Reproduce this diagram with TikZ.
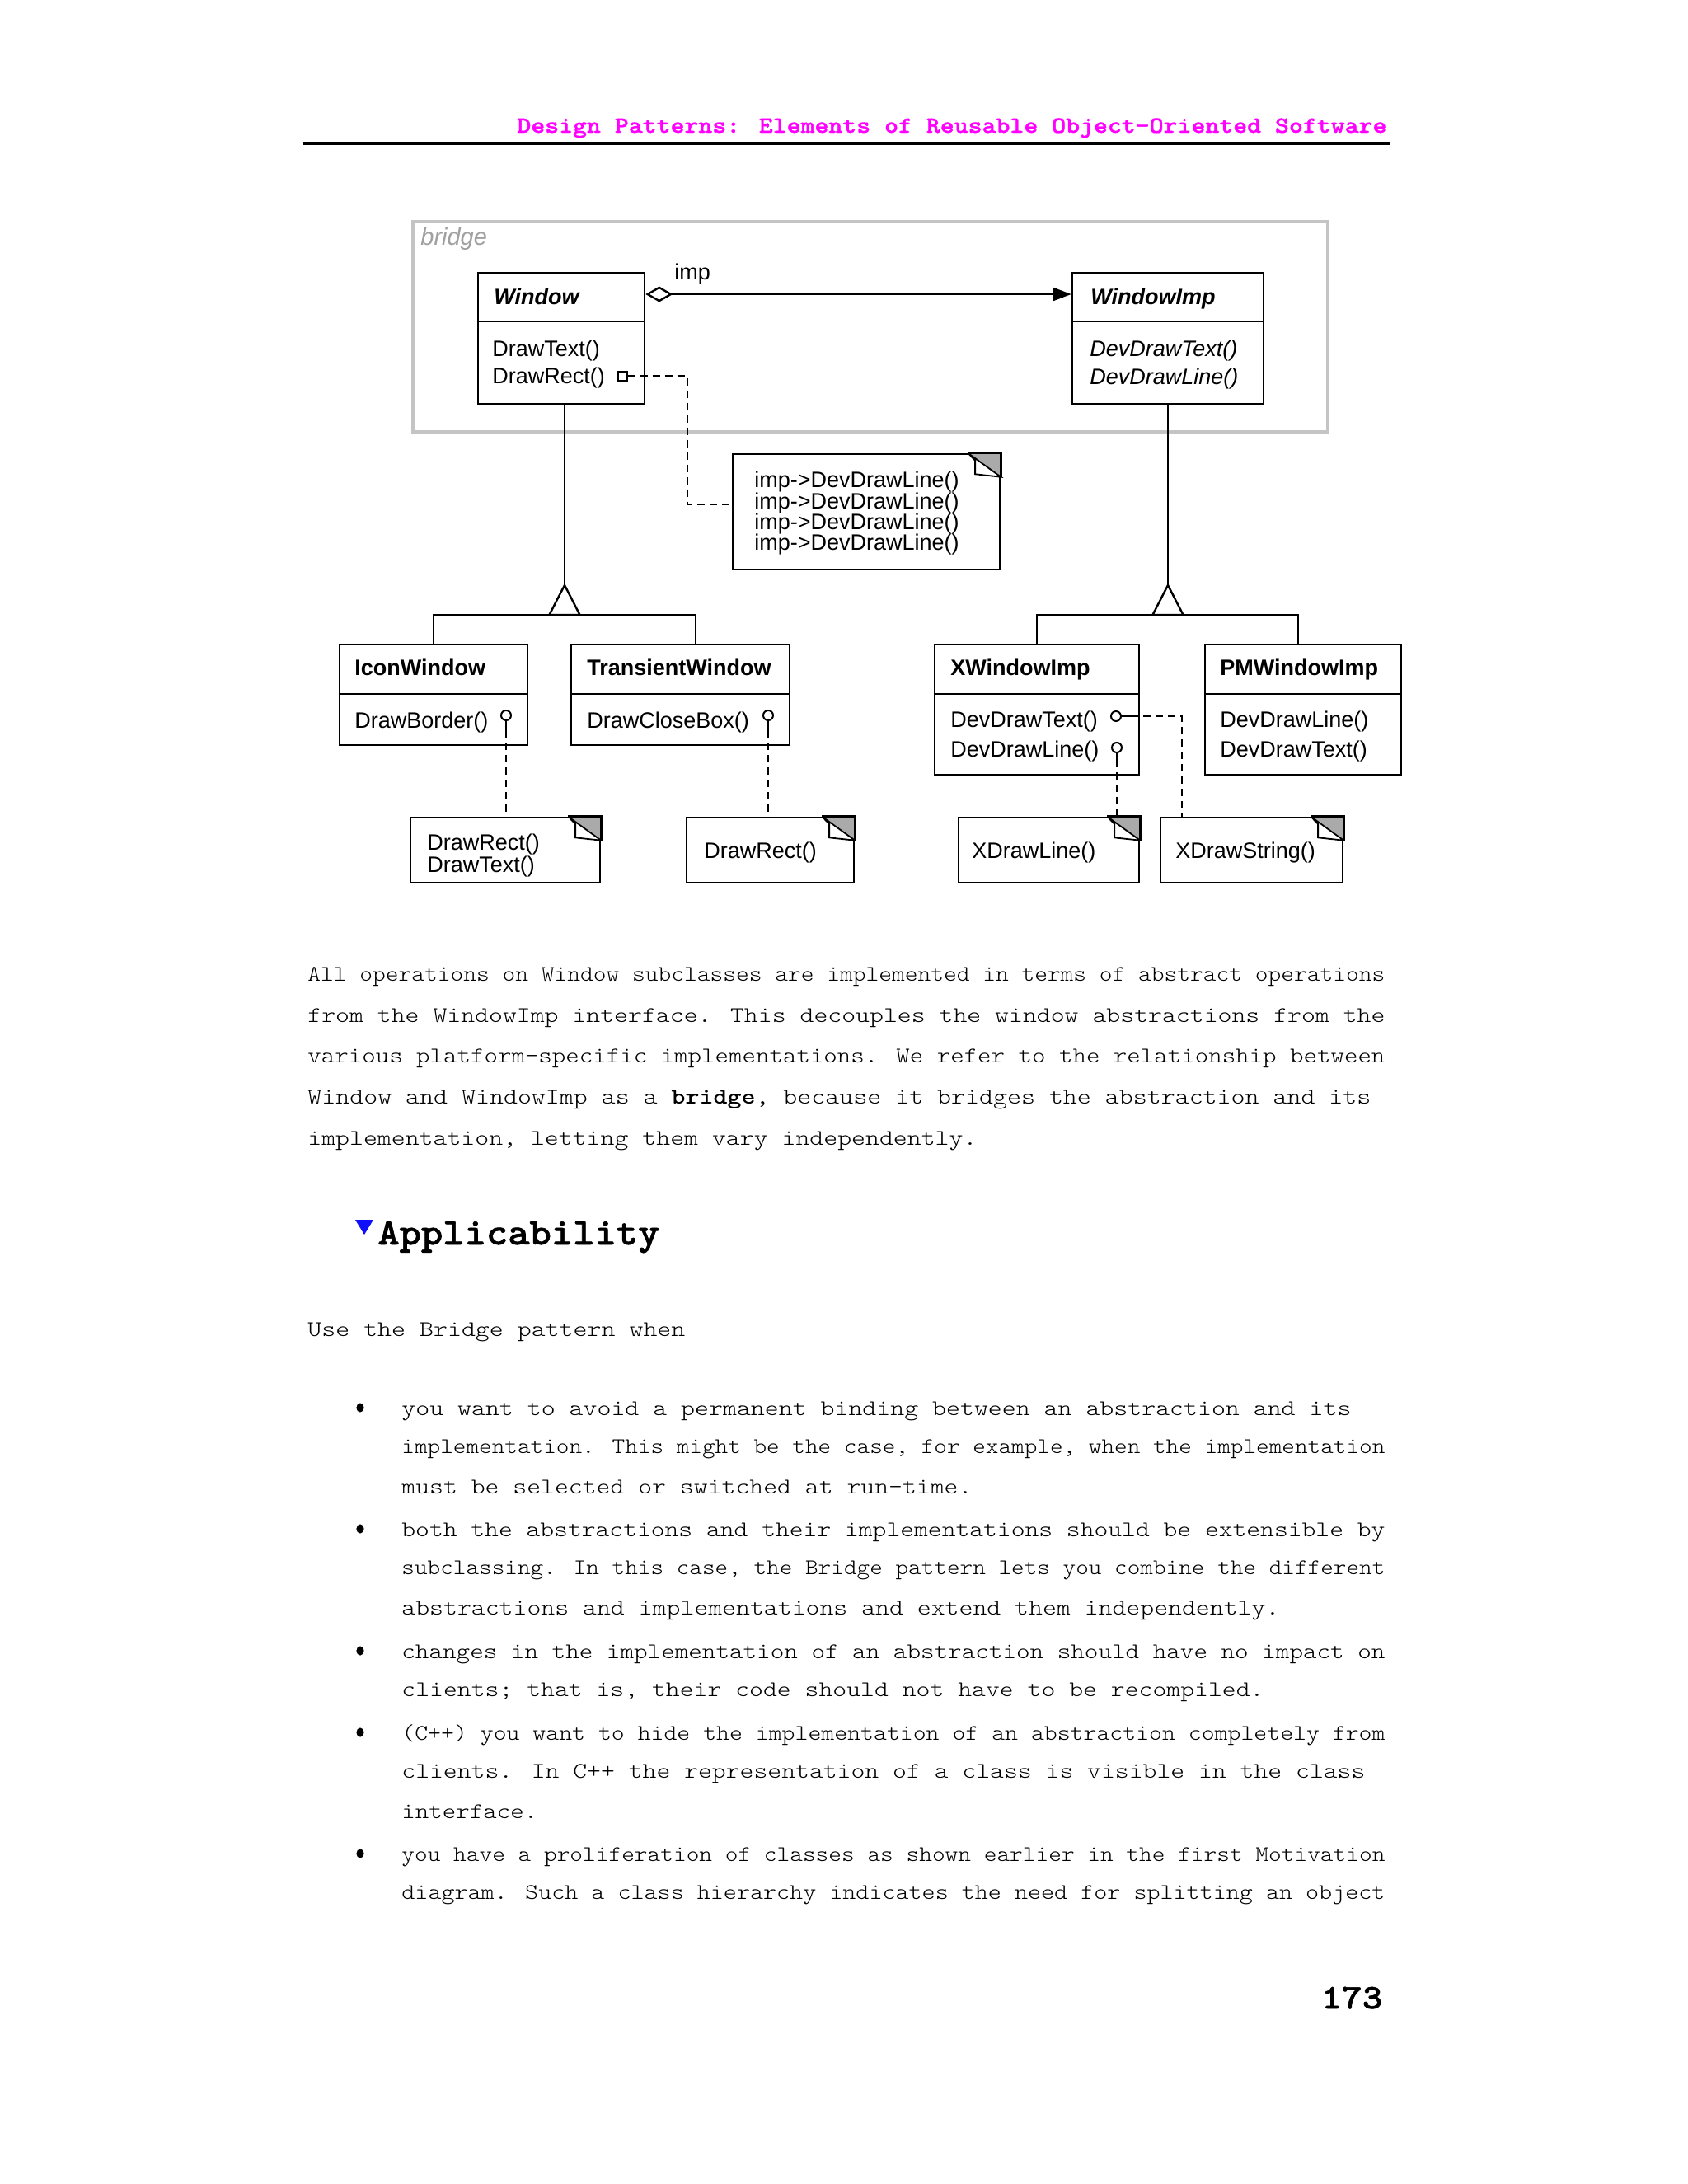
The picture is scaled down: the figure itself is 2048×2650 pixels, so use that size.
\documentclass[tikz,border=0pt]{standalone}
\usepackage{fontspec}
\usepackage{graphicx}
\usetikzlibrary{arrows.meta,fit}
\newfontfamily\dfont{Liberation Sans}
\newfontfamily\hmono{lmmonolt10-bold.otf}[FakeBold=1.2]
\definecolor{hdrmag}{RGB}{255,0,255}
\definecolor{framegray}{RGB}{196,196,196}
\definecolor{eargray}{RGB}{170,170,170}
\definecolor{bluetri}{RGB}{15,15,250}
\definecolor{lblgray}{RGB}{160,160,160}
\newcommand\dfs{\dfont\fontsize{13.5pt}{15pt}\selectfont}
\newcommand\bodyf{\fontfamily{lmtt}\fontseries{l}\fontshape{n}\fontsize{13.5pt}{16pt}\selectfont}
\newcommand\bmono[1]{\hmono\fontsize{#1}{#1}\selectfont}
\newcommand\bodyline[5]{\node[tl] (#1) at (#2,#3) {\resizebox{#4}{\height}{\bodyf #5}};}
\newcommand\bul[1]{\fill (437,#1) ellipse [x radius=2.3pt, y radius=2.8pt];}
\newcommand\dogear[1]{%
  \fill[eargray] ([xshift=-20pt]#1.north east) -- (#1.north east) -- ([yshift=-14.5pt]#1.north east) -- cycle;
  \draw[line width=0.9pt, fill=white] ([xshift=-20pt]#1.north east) -- ([xshift=-15.6pt,yshift=-4.5pt]#1.north east) -- ([xshift=-15.6pt,yshift=-12.8pt]#1.north east) -- ([yshift=-14.5pt]#1.north east) -- cycle;
  \draw[line width=1.3pt] ([xshift=-20pt]#1.north east) -- (#1.north east) -- ([yshift=-14.5pt]#1.north east);
}
\begin{document}
\begin{tikzpicture}[x=0.5pt,y=-0.5pt,
  box/.style={draw, line width=1.3pt, inner sep=0pt},
  lbl/.style={anchor=base west, inner sep=0pt, font=\dfs},
  blbl/.style={anchor=base west, inner sep=0pt, font=\dfs\bfseries},
  bilbl/.style={anchor=base west, inner sep=0pt, font=\dfs\bfseries\itshape},
  ilbl/.style={anchor=base west, inner sep=0pt, font=\dfs\itshape},
  tl/.style={anchor=base west, inner sep=0pt},
  conn/.style={line width=1.2pt},
  dsh/.style={line width=1.2pt, dash pattern=on 4.5pt off 3pt},
  lolli/.style={draw, circle, line width=1pt, minimum size=6pt, inner sep=0pt, fill=white},
]
\fill[white] (0,0) rectangle (2048,2650);
\useasboundingbox (0,0) rectangle (2048,2650);

% header
\node[tl, text=hdrmag] (hdr) at (627,161) {\resizebox{527.5pt}{\height}{\bmono{14pt}Design Patterns: Elements of Reusable Object-Oriented Software}};
\draw[line width=1.75pt] (368,174) -- (1686,174);

% bridge frame
\node[draw=framegray, line width=1.8pt, inner sep=0pt, fit={(501,269) (1611,524)}] (frame) {};
\node[anchor=base west, inner sep=0pt, text=lblgray, font=\dfont\fontsize{14.5pt}{16pt}\selectfont\itshape] (bridgelbl) at (510,297) {bridge};

% Window
\node[box, fit={(580,331) (782,490)}] (window) {};
\draw[line width=1.3pt] (window.west |- 0,390) -- (window.east |- 0,390);
\node[bilbl] (windowname) at (599,369) {Window};
\node[lbl] (wm1) at (597,432) {DrawText()};
\node[lbl] (wm2) at (597,465) {DrawRect()};

% WindowImp
\node[box, fit={(1301,331) (1533,490)}] (wimp) {};
\draw[line width=1.3pt] (wimp.west |- 0,390) -- (wimp.east |- 0,390);
\node[bilbl] (wimpname) at (1323,369) {WindowImp};
\node[ilbl] (wim1) at (1322,432) {DevDrawText()};
\node[ilbl] (wim2) at (1322,466) {DevDrawLine()};

% association
\draw[conn, {Diamond[open,length=16.5pt,width=9.5pt]}-{Triangle[length=11pt,width=8pt]}] (window.east |- 0,357) -- (wimp.west |- 0,357);
\node[lbl] (implbl) at (818,339) {imp};

% note 1
\node[box, fill=white, fit={(889,551) (1213,691)}] (note1) {};
\dogear{note1}
\node[lbl] (n1a) at (915,591) {imp->DevDrawLine()};
\node[lbl] (n1b) at (915,617) {imp->DevDrawLine()};
\node[lbl] (n1c) at (915,642) {imp->DevDrawLine()};
\node[lbl] (n1d) at (915,667) {imp->DevDrawLine()};

% DrawRect marker to note 1
\node[draw, line width=1pt, minimum size=5.5pt, inner sep=0pt, fill=white] (sq1) at (755,456) {};
\coordinate (d1a) at (834,456);
\coordinate (d1b) at (834,612);
\draw[dsh] (sq1.east) -- (d1a) -- (d1b) -- (note1.west |- d1b);

% subclasses of Window
\node[box, fit={(412,782) (640,904)}] (iconwin) {};
\draw[line width=1.3pt] (iconwin.west |- 0,842) -- (iconwin.east |- 0,842);
\node[blbl] (iconname) at (430,819) {IconWindow};
\node[lbl] (icm1) at (430,883) {DrawBorder()};

\node[box, fit={(693,782) (958,904)}] (transwin) {};
\draw[line width=1.3pt] (transwin.west |- 0,842) -- (transwin.east |- 0,842);
\node[blbl] (transname) at (712,819) {TransientWindow};
\node[lbl] (trm1) at (712,883) {DrawCloseBox()};

\coordinate (t1) at (685,710);
\coordinate (twtop) at (844,782);
\draw[conn] (window.south -| t1) -- (t1);
\draw[conn] (iconwin.north) |- (t1 |- 0,746) -| (twtop);
\draw[conn, fill=white] (t1) -- ++(-18.5,36) -- ++(37,0) -- cycle;

% subclasses of WindowImp
\node[box, fit={(1134,782) (1382,940)}] (xwin) {};
\draw[line width=1.3pt] (xwin.west |- 0,842) -- (xwin.east |- 0,842);
\node[blbl] (xname) at (1153,819) {XWindowImp};
\node[lbl] (xm1) at (1153,882) {DevDrawText()};
\node[lbl] (xm2) at (1153,918) {DevDrawLine()};

\node[box, fit={(1462,782) (1700,940)}] (pmwin) {};
\draw[line width=1.3pt] (pmwin.west |- 0,842) -- (pmwin.east |- 0,842);
\node[blbl] (pmname) at (1480,819) {PMWindowImp};
\node[lbl] (pmm1) at (1480,882) {DevDrawLine()};
\node[lbl] (pmm2) at (1480,918) {DevDrawText()};

\coordinate (t2) at (1417,710);
\coordinate (pmtop) at (1575,782);
\draw[conn] (wimp.south -| t2) -- (t2);
\draw[conn] (xwin.north) |- (t2 |- 0,746) -| (pmtop);
\draw[conn, fill=white] (t2) -- ++(-18.5,36) -- ++(37,0) -- cycle;

% bottom notes
\node[box, fit={(498,992) (728,1071)}] (noteA) {};
\dogear{noteA}
\node[lbl] (nAa) at (518,1031) {DrawRect()};
\node[lbl] (nAb) at (518,1058) {DrawText()};

\node[box, fit={(833,992) (1036,1071)}] (noteB) {};
\dogear{noteB}
\node[lbl] (nBa) at (854,1041) {DrawRect()};

\node[box, fit={(1163,992) (1382,1071)}] (noteC) {};
\dogear{noteC}
\node[lbl] (nCa) at (1179,1041) {XDrawLine()};

\node[box, fit={(1408,992) (1629,1071)}] (noteD) {};
\dogear{noteD}
\node[lbl] (nDa) at (1426,1041) {XDrawString()};

% lollipops
\node[lolli] (lp1) at (614,868) {};
\coordinate (lp1s) at (614,886);
\draw[conn] (lp1.south) -- (lp1s);
\draw[dsh] (lp1s) -- (lp1s |- noteA.north);

\node[lolli] (lp2) at (932,868) {};
\coordinate (lp2s) at (932,886);
\draw[conn] (lp2.south) -- (lp2s);
\draw[dsh] (lp2s) -- (lp2s |- noteB.north);

\node[lolli] (lp3) at (1354,869) {};
\coordinate (lp3s) at (1372,869);
\coordinate (lp3c) at (1434,869);
\draw[conn] (lp3.east) -- (lp3s);
\draw[dsh] (lp3s) -- (lp3c) -- (lp3c |- noteD.north);

\node[lolli] (lp4) at (1355,907) {};
\coordinate (lp4s) at (1355,922);
\draw[conn] (lp4.south) -- (lp4s);
\draw[dsh] (lp4s) -- (lp4s |- noteC.north);

% body paragraph
\bodyline{p1}{373}{1190}{653.5pt}{All operations on Window subclasses are implemented in terms of abstract operations}
\bodyline{p2}{373}{1240}{653.5pt}{from the WindowImp interface. This decouples the window abstractions from the}
\bodyline{p3}{373}{1289}{653.5pt}{various platform-specific implementations. We refer to the relationship between}
\bodyline{p4}{373}{1339}{645pt}{Window and WindowImp as a \textbf{bridge}, because it bridges the abstraction and its}
\bodyline{p5}{373}{1389}{406pt}{implementation, letting them vary independently.}

% heading
\fill[bluetri] (431,1480) -- (453,1480) -- (442,1498) -- cycle;
\node[tl] (appl) at (458,1510) {\resizebox{171pt}{\height}{\bmono{23pt}Applicability}};

\bodyline{use}{373}{1621}{229pt}{Use the Bridge pattern when}

% bullets
\bul{1708}
\bodyline{b11}{487}{1717}{576pt}{you want to avoid a permanent binding between an abstraction and its}
\bodyline{b12}{487}{1763}{596.5pt}{implementation. This might be the case, for example, when the implementation}
\bodyline{b13}{487}{1812}{346pt}{must be selected or switched at run-time.}
\bul{1855}
\bodyline{b21}{487}{1864}{596.5pt}{both the abstractions and their implementations should be extensible by}
\bodyline{b22}{487}{1910}{596.5pt}{subclassing. In this case, the Bridge pattern lets you combine the different}
\bodyline{b23}{487}{1959}{532.5pt}{abstractions and implementations and extend them independently.}
\bul{2003}
\bodyline{b31}{487}{2012}{596.5pt}{changes in the implementation of an abstraction should have no impact on}
\bodyline{b32}{487}{2058}{523pt}{clients; that is, their code should not have to be recompiled.}
\bul{2102}
\bodyline{b41}{487}{2111}{596.5pt}{(C++) you want to hide the implementation of an abstraction completely from}
\bodyline{b42}{487}{2157}{584.5pt}{clients. In C++ the representation of a class is visible in the class}
\bodyline{b43}{487}{2206}{82.5pt}{interface.}
\bul{2249}
\bodyline{b51}{487}{2258}{596.5pt}{you have a proliferation of classes as shown earlier in the first Motivation}
\bodyline{b52}{487}{2304}{596.5pt}{diagram. Such a class hierarchy indicates the need for splitting an object}

% page number
\node[tl] (pagenum) at (1603,2437) {\resizebox{37pt}{\height}{\bmono{21pt}173}};
\end{tikzpicture}
\end{document}
